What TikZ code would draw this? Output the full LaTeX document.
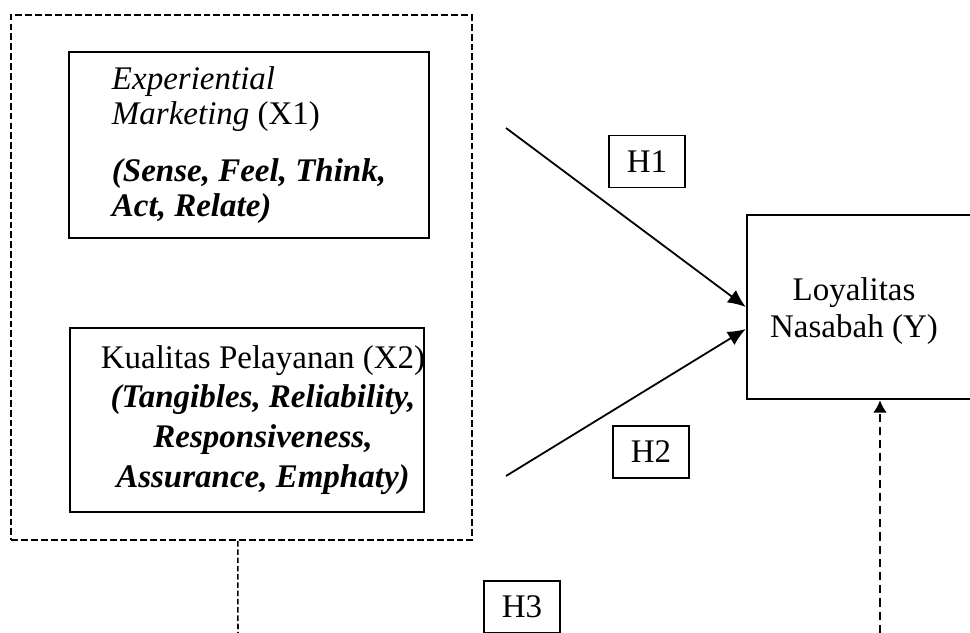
\documentclass[tikz,border=0pt]{standalone}
\usepackage{fontspec}
\setmainfont{Liberation Serif}
\usetikzlibrary{arrows.meta}
\tikzset{
  kotak/.style={draw, line width=0.9pt, inner sep=0pt},
  hipo/.style={draw, line width=0.5pt, minimum width=27.6pt, minimum height=19pt, inner sep=0pt},
  garis/.style={line width=0.65pt},
}
\begin{document}
\begin{tikzpicture}[x=0.3636pt, y=-0.3636pt, >={Latex[length=6.5pt,width=5.6pt]}, font=\fontsize{12}{12.7}\selectfont]
\useasboundingbox (0,0) rectangle (970,633);
\clip (0,0) rectangle (970,633);

\node[draw, line width=0.8pt, dash pattern=on 2.5pt off 1.1pt, minimum width=167.6pt, minimum height=190.9pt] (luar) at (241.5,277.5) {};

\node[kotak, minimum width=130.9pt, minimum height=67.6pt, align=left] (xsatu) at (249,145)
  {\textit{Experiential}\\ \textit{Marketing} (X1)\\[8pt] \textbf{\textit{(Sense, Feel, Think,}}\\ \textbf{\textit{Act, Relate)}}};

\node[kotak, minimum width=128.7pt, minimum height=66.9pt] (xdua) at (247,420) {};
\node[align=center, font=\fontsize{12}{14.5}\selectfont] (xduatxt) at (263,420)
  {Kualitas Pelayanan (X2)\\ \textbf{\textit{(Tangibles, Reliability,}}\\ \textbf{\textit{Responsiveness,}}\\ \textbf{\textit{Assurance, Emphaty)}}};

\node[kotak, minimum width=96.7pt, minimum height=66.9pt] (yy) at (880,307) {};
\node[align=center, font=\fontsize{12}{13.5}\selectfont] (yytxt) at (854,311) {Loyalitas\\ Nasabah (Y)};

\node[hipo] (hsatu) at (647,161.5) {H1};
\node[hipo] (hdua) at (651,452) {H2};
\node[hipo] (htiga) at (522,607) {H3};

\coordinate (asal1) at (506,128);
\coordinate (asal2) at (506,476);
\coordinate (bawah1) at (238,633);
\coordinate (bawah2) at (880,633);

\draw[garis, ->] (asal1) -- (yy.west);
\draw[garis, ->] (asal2) -- ([yshift=-8pt]yy.west);
\draw[line width=0.55pt, dash pattern=on 2pt off 1pt] ([xshift=-1.3pt]luar.south) -- (bawah1);
\draw[line width=0.8pt, dash pattern=on 3pt off 1.8pt, -{Latex[length=4.5pt,width=5pt]}] (bawah2) -- (yy.south);
\end{tikzpicture}
\end{document}
